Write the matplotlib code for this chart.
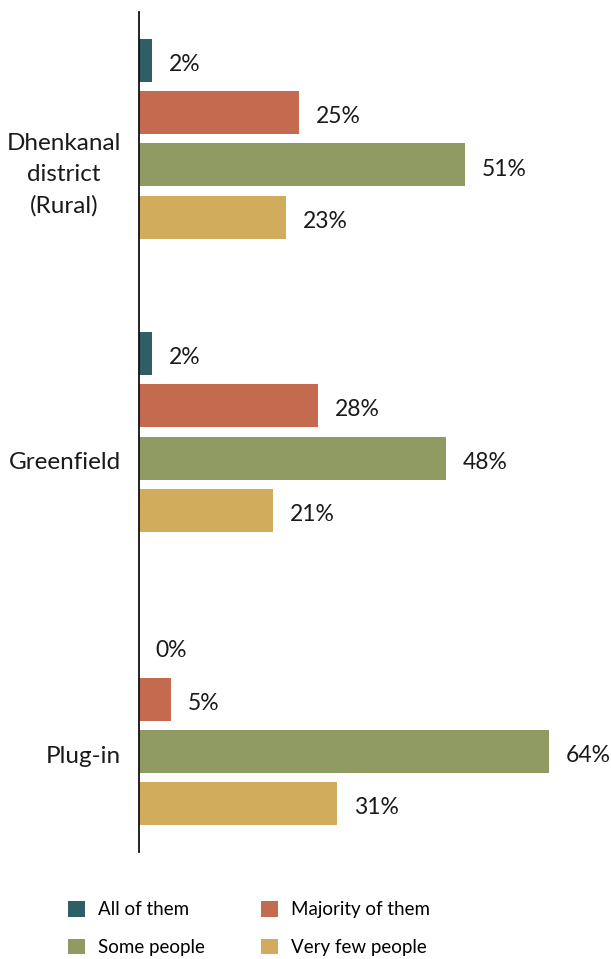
import numpy as np
import matplotlib
matplotlib.use("Agg")
import matplotlib.pyplot as plt
from matplotlib.patches import Patch

plt.rcParams["font.family"] = ["Lato", "DejaVu Sans"]

# ── Data ─────────────────────────────────────────────────────────────────────
areas = ["Dhenkanal\ndistrict\n(Rural)", "Greenfield", "Plug-in"]
responses = ["All of them", "Majority of them", "Some people", "Very few people"]
all_of_them = [2, 2, 0]
majority = [25, 28, 5]
some_people = [51, 48, 64]
very_few = [23, 21, 31]
colors = ["#2f5e64", "#c46a4e", "#8f9b62", "#d1ac5d"]

series = [all_of_them, majority, some_people, very_few]

# ── Layout ───────────────────────────────────────────────────────────────────
W, H = 611, 959
fig = plt.figure(figsize=(W / 100, H / 100), dpi=100)
ax = fig.add_axes([139 / W, 1 - 852 / H, (605 - 139) / W, (852 - 12) / H])

group_gap = 5.6
bar_h = 0.82
for k, (vals, col) in enumerate(zip(series, colors)):
    ys = np.arange(len(areas)) * group_gap + k
    ax.barh(ys, vals, height=bar_h, color=col, zorder=2)
    for y, v in zip(ys, vals):
        ax.annotate(f"{v}%", (v, y), xytext=(12, -3), textcoords="offset points",
                    ha="left", va="center", fontsize=16.5, color="#1a1a1a")

ax.set_xlim(0, 72.8)
ax.set_ylim((len(areas) - 1) * group_gap + 3 + 0.92, -0.92)

# category labels sit level with the "Some people" bar
ax.set_yticks(np.arange(len(areas)) * group_gap + 2.05)
ax.set_yticklabels(areas, fontsize=17.5, multialignment="center", linespacing=1.6)
ax.tick_params(axis="y", length=0, pad=13, colors="#1a1a1a")
ax.set_xticks([])

for s in ["top", "right", "bottom"]:
    ax.spines[s].set_visible(False)
ax.spines["left"].set_linewidth(1.3)
ax.spines["left"].set_color("#111111")

# legend, filled row by row
handles = [Patch(facecolor=c, edgecolor="none") for c in colors]
order = [0, 2, 1, 3]
fig.legend([handles[i] for i in order], [responses[i] for i in order],
           ncol=2, loc="upper left", bbox_to_anchor=(68 / W, 1 - 901 / H),
           frameon=False, fontsize=13.5, handlelength=0.9, handleheight=0.9,
           handletextpad=0.7, columnspacing=3.0, labelspacing=1.1,
           borderpad=0, borderaxespad=0)

fig.savefig("out.png", dpi=100)
